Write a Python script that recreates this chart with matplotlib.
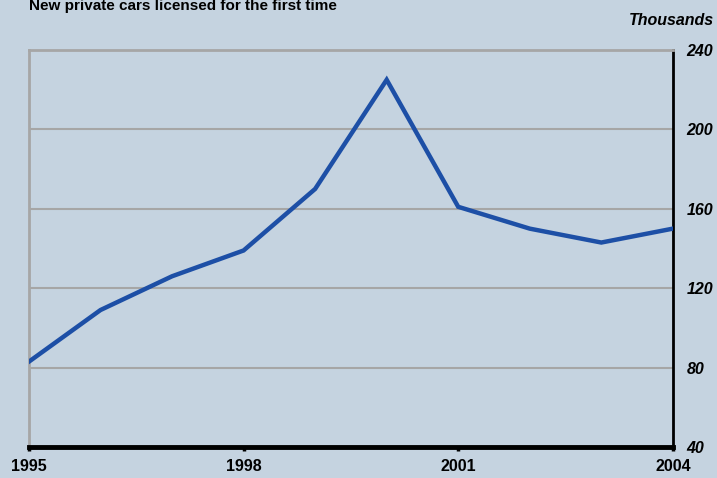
import matplotlib.pyplot as plt

years = [1995, 1996, 1997, 1998, 1999, 2000, 2001, 2002, 2003, 2004]
cars = [83, 109, 126, 139, 170, 225, 161, 150, 143, 150]
x_ticks = [1995, 1998, 2001, 2004]
y_ticks = [40, 80, 120, 160, 200, 240]

bg = '#c5d3e0'
plt.rcParams['font.family'] = ['Liberation Sans', 'DejaVu Sans']

fig = plt.figure(figsize=(7.17, 4.78), dpi=100, facecolor=bg)
ax = fig.add_axes([0.0404, 0.0649, 0.898, 0.8305], facecolor=bg)

ax.plot(years, cars, color='#1d4fa6', lw=3.2, solid_joinstyle='miter', zorder=3)

ax.set_xlim(1995, 2004)
ax.set_ylim(40, 240)
ax.set_xticks(x_ticks)
ax.set_xticklabels([str(y) for y in x_ticks], fontweight='bold', fontsize=11.5)
ax.set_yticks(y_ticks)
ax.set_yticklabels([str(y) for y in y_ticks], fontweight='bold', fontstyle='italic', fontsize=11.5)
ax.yaxis.tick_right()
ax.tick_params(axis='y', length=0, pad=10)
ax.tick_params(axis='x', length=3, width=2.5, color='black', direction='out', pad=6)

for v in y_ticks[1:-1]:
    ax.axhline(v, color='#a6a6a6', lw=1.5, zorder=1)

ax.spines['top'].set_color('#a6a6a6')
ax.spines['top'].set_linewidth(2)
ax.spines['left'].set_color('#a6a6a6')
ax.spines['left'].set_linewidth(2)
ax.spines['right'].set_color('black')
ax.spines['right'].set_linewidth(2)
ax.spines['bottom'].set_color('black')
ax.spines['bottom'].set_linewidth(3.5)

fig.text(0.04, 0.98, 'New private cars licensed for the first time',
         fontsize=11, fontweight='bold', ha='left', va='baseline')
fig.text(0.996, 0.957, 'Thousands', fontsize=11.5, fontweight='bold',
         fontstyle='italic', ha='right', va='center')

fig.savefig('out.png', dpi=100, facecolor=bg)
